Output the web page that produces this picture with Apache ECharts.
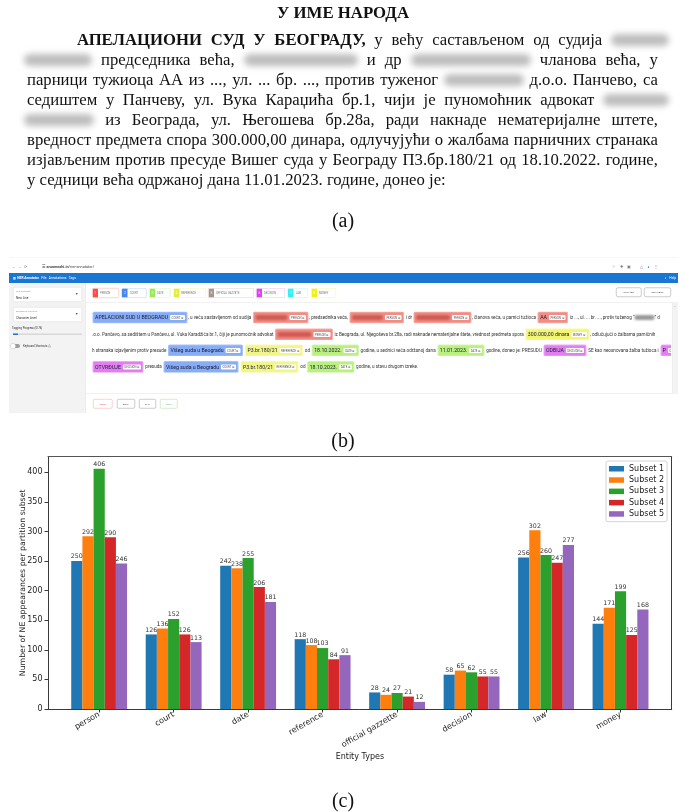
<!DOCTYPE html>
<html>
<head>
<meta charset="utf-8">
<script src="https://cdn.jsdelivr.net/npm/echarts@6/dist/echarts.min.js"></script>
<style>
html,body{margin:0;padding:0;background:#fff;}
body{width:686px;height:812px;position:relative;overflow:hidden;}
#chart{position:absolute;left:0;top:0;width:686px;height:812px;z-index:0;}
.panel{position:absolute;z-index:1;}
.serif{font-family:'Liberation Serif','DejaVu Serif',serif;color:#111;}
.ln{position:absolute;height:20px;display:flex;justify-content:space-between;align-items:center;white-space:nowrap;font-size:16.7px;}
.ln b{font-weight:bold;}
.blob{display:inline-block;height:12px;background:#bdbdbd;border-radius:6px;filter:blur(3.2px);}
.cap{position:absolute;width:686px;left:0;text-align:center;font-size:20px;line-height:24px;}
#bw{position:absolute;left:0;top:0;width:1372px;height:840px;transform:scale(0.5);transform-origin:0 0;font-family:Roboto,'Noto Sans',sans-serif;filter:blur(0.7px);}
.hl{display:inline-block;height:20px;line-height:20px;padding:0 3px;border:2px solid;border-radius:3px;vertical-align:middle;font-size:10.4px;color:#1a1a3a;margin:0 1px;}
.tg{display:inline-block;background:#fff;font-size:5.5px;line-height:10px;padding:0 3px;margin-left:4px;border-radius:2px;color:#555;vertical-align:middle;}
.bl{display:inline-block;height:10px;vertical-align:middle;border-radius:4px;filter:blur(2px);}
.row{position:absolute;white-space:nowrap;overflow:hidden;font-size:9.2px;line-height:24px;color:#333;}
</style>
</head>
<body>
<div id="chart"></div>
<div class="panel serif" id="pa" style="left:0;top:0;width:686px;height:240px;"></div>
<div class="panel" id="pb" style="left:0;top:250px;width:686px;height:170px;"><div id="bw"></div></div>
<div class="cap serif" style="top:208px;">(a)</div>
<div class="cap serif" style="top:428px;">(b)</div>
<div class="cap serif" style="top:788px;z-index:2;">(c)</div>
<script>
// ---------------- chart data (panel c) ----------------
const categories = ['person', 'court', 'date', 'reference', 'official gazzette', 'decision', 'law', 'money'];
const seriesNames = ['Subset 1', 'Subset 2', 'Subset 3', 'Subset 4', 'Subset 5'];
const subset1 = [250, 126, 242, 118, 28, 58, 256, 144];
const subset2 = [292, 136, 238, 108, 24, 65, 302, 171];
const subset3 = [406, 152, 255, 103, 27, 62, 260, 199];
const subset4 = [290, 126, 206, 84, 21, 55, 247, 125];
const subset5 = [246, 113, 181, 91, 12, 55, 277, 168];
const yTickValues = [0, 50, 100, 150, 200, 250, 300, 350, 400];
const xAxisTitle = 'Entity Types';
const yAxisTitle = 'Number of NE appearances per partition subset';
const subsetColors = ['#1f77b4', '#ff7f0e', '#2ca02c', '#d62728', '#9467bd'];

// ---------------- panel (a): document text ----------------
const titleText = 'У ИМЕ НАРОДА';
const docLines = [
  {y: 40, l: 77, r: 669, t: '*АПЕЛАЦИОНИ *СУД *У *БЕОГРАДУ, у већу састављеном од судија [58]'},
  {y: 60, l: 24, r: 658, t: '[68] председника већа, [114] и др [120] чланова већа, у'},
  {y: 80, l: 27, r: 658, t: 'парници тужиоца АА из ..., ул. ... бр. ..., против туженог [80] д.о.о. Панчево, са'},
  {y: 100, l: 27, r: 669, t: 'седиштем у Панчеву, ул. Вука Караџића бр.1, чији је пуномоћник адвокат [66]'},
  {y: 120, l: 24, r: 658, t: '[70] из Београда, ул. Његошева бр.28а, ради накнаде нематеријалне штете,'},
  {y: 140, l: 27, r: 658, t: 'вредност предмета спора 300.000,00 динара, одлучујући о жалбама парничних странака'},
  {y: 160, l: 27, r: 658, t: 'изјављеним против пресуде Вишег суда у Београду П3.бр.180/21 од 18.10.2022. године,'},
  {y: 180, l: 27, r: 0, t: 'у седници већа одржаној дана 11.01.2023. године, донео је:'}
];
const pa = document.getElementById('pa');
const tdiv = document.createElement('div');
tdiv.style.cssText = 'position:absolute;left:0;width:686px;top:2px;text-align:center;font-weight:bold;font-size:16.8px;line-height:22px;';
tdiv.textContent = titleText;
pa.appendChild(tdiv);
docLines.forEach(L => {
  const d = document.createElement('div');
  d.className = 'ln';
  d.style.top = (L.y - 10) + 'px';
  d.style.left = L.l + 'px';
  if (L.r) { d.style.width = (L.r - L.l) + 'px'; }
  else { d.style.justifyContent = 'flex-start'; d.style.gap = '4.2px'; }
  L.t.split(' ').forEach(tok => {
    let e;
    const m = tok.match(/^\[(\d+)\]$/);
    if (m) { e = document.createElement('span'); e.className = 'blob'; e.style.width = m[1] + 'px'; }
    else if (tok[0] === '*') { e = document.createElement('b'); e.textContent = tok.slice(1); }
    else { e = document.createElement('span'); e.textContent = tok; }
    d.appendChild(e);
  });
  pa.appendChild(d);
});

// ---------------- panel (b): annotator screenshot ----------------
const B = document.getElementById('bw');
function box(x, y, w, h, css, html) {
  const e = document.createElement('div');
  e.style.cssText = 'position:absolute;box-sizing:border-box;left:' + x * 2 + 'px;top:' + (y - 250) * 2 + 'px;width:' + w * 2 + 'px;height:' + h * 2 + 'px;' + (css || '');
  if (html !== undefined) e.innerHTML = html;
  B.appendChild(e);
  return e;
}
// browser chrome
box(9, 257, 669, 15, 'background:#fff;border-top:1px solid #eee;');
box(12, 262, 30, 10, 'font-size:7px;line-height:20px;color:#888;letter-spacing:5px;', '&#8592;&#8594;&#10227;');
box(42, 262, 120, 10, 'font-size:7.5px;line-height:20px;color:#444;', '&#9776; <b>arunmozhi.in</b>/ner-annotator/');
box(612, 262, 66, 10, 'font-size:7px;line-height:20px;color:#777;letter-spacing:9px;', '&#9734;&#10040;&#9635;&nbsp;&#9651;<span style="color:#3b6fd8">&#9679;</span>&#8942;');
// app bar
box(9, 273, 669, 10, 'background:#1976d2;');
box(13, 273, 200, 10, 'font-size:6.5px;line-height:20px;color:#fff;', '&#9641; <b>NER Annotator</b>&nbsp;&nbsp;&nbsp;File&nbsp;&nbsp;&nbsp;Annotations&nbsp;&nbsp;&nbsp;Tags');
box(640, 273, 36, 10, 'font-size:6.5px;line-height:20px;color:#fff;text-align:right;', '&#9680;&nbsp;&nbsp;&nbsp;Help');
// sidebar
box(9, 283, 77, 130, 'background:#f3f3f3;border-right:1px solid #e6e6e6;');
box(13, 287, 69, 15, 'background:#fff;border:1px solid #ddd;border-radius:3px;');
box(16, 288, 50, 6, 'font-size:4.6px;line-height:12px;color:#999;', 'Text Separator');
box(16, 294, 50, 7, 'font-size:6px;line-height:14px;color:#333;', 'New Line');
box(75, 290, 6, 8, 'font-size:7px;line-height:16px;color:#555;', '&#9660;');
box(13, 307, 69, 15, 'background:#fff;border:1px solid #ddd;border-radius:3px;');
box(16, 308, 50, 6, 'font-size:4.6px;line-height:12px;color:#999;', 'Annotation Precision');
box(16, 314, 50, 7, 'font-size:6px;line-height:14px;color:#333;', 'Character Level');
box(75, 310, 6, 8, 'font-size:7px;line-height:16px;color:#555;', '&#9660;');
box(12, 325, 70, 6, 'font-size:5.6px;line-height:12px;color:#333;', 'Tagging Progress (0/76)');
box(13, 333.5, 69, 1.6, 'background:#d8d8d8;border-radius:1px;');
box(13, 333.5, 5, 1.6, 'background:#1976d2;');
box(11, 344, 9, 4, 'background:#9e9e9e;border-radius:4px;');
box(10.5, 343.5, 5, 5, 'background:#fff;border-radius:50%;box-shadow:0 0 2px #888;');
box(23, 343, 60, 6, 'font-size:5.6px;line-height:12px;color:#333;', 'Keyboard Shortcuts &#9432;');
// main area
box(86, 283, 592, 130, 'background:#fff;');
const chipSpecs = [
  ['PERSON', '1', '#ff4949', '#f4a7a7', 92, 119],
  ['COURT', '2', '#4a86f0', '#a9c4f5', 121.7, 146.7],
  ['DATE', '3', '#9be85a', '#cdf2ad', 149, 170.7],
  ['REFERENCE', '4', '#e4ec3c', '#eef29c', 173.3, 206],
  ['OFFICIAL GAZZETE', '5', '#a8958c', '#d0c6c1', 208, 254],
  ['DECISION', '6', '#e040f0', '#eea6f5', 256, 285],
  ['LAW', '7', '#34f0f0', '#a6f5f5', 287.7, 308],
  ['MONEY', '8', '#f0f018', '#f3f39a', 311, 336]
];
chipSpecs.forEach(c => {
  const e = box(c[4], 288, c[5] - c[4], 10, 'background:#fff;border:1.5px solid ' + c[3] + ';border-radius:3px;overflow:hidden;');
  e.innerHTML = '<div style="position:absolute;left:0;top:0;bottom:0;width:11px;background:' + c[2] + ';color:#fff;font-size:6px;line-height:17px;text-align:center;">' + c[1] + '</div>' +
    '<div style="position:absolute;left:15px;top:0;font-size:5.4px;line-height:17px;color:#777;white-space:nowrap;">' + c[0] + '</div>';
});
box(616, 287.7, 25.7, 9.5, 'border:1.5px solid #999;border-radius:4px;font-size:5px;line-height:15px;text-align:center;color:#555;', 'NEW TAG');
box(644, 287.7, 27, 9.5, 'border:1.5px solid #999;border-radius:4px;font-size:5px;line-height:15px;text-align:center;color:#555;', 'EDIT TAGS');
box(86, 302, 592, 0.6, 'background:#e2e2e2;');
box(86, 393, 592, 0.6, 'background:#e2e2e2;');
box(672, 302.5, 6, 90.5, 'background:#f3f3f3;border-left:1px solid #e8e8e8;');
box(672, 303, 6, 6, 'font-size:4px;line-height:12px;text-align:center;color:#aaa;', '&#9650;');
[['RESET', 93, 112.7, '#f2a3a3', '#e57373'], ['BACK', 117, 135, '#999', '#666'], ['SKIP', 139, 156, '#999', '#666'], ['SAVE', 160, 177.7, '#a5d6a7', '#7cc47f']].forEach(b => {
  box(b[1], 399, b[2] - b[1], 9.5, 'border:1.5px solid ' + b[3] + ';border-radius:3px;font-size:5px;line-height:16px;text-align:center;color:' + b[4] + ';', b[0]);
});
const hlStyle = {
  COURT: ['#86adf5', '#a6c3f8'], PERSON: ['#f18d84', '#f6b0a9'], DATE: ['#b9f07e', '#d3f6ae'],
  REFERENCE: ['#f2f58a', '#f7f9b5'], MONEY: ['#f4f570', '#f8f9a8'], DECISION: ['#e27ff0', '#eeaaf6']
};
function hl(type, text, blurW) {
  const s = hlStyle[type];
  const inner = blurW ? '<span class="bl" style="width:' + blurW * 2 + 'px;background:#cf5a54;"></span>' : text;
  return '<span class="hl" style="background:' + s[0] + ';border-color:' + s[1] + ';">' + inner + '<span class="tg">' + type + ' &#8855;</span></span>';
}
const rows = [
  {y: 317.3, h: hl('COURT', 'APELACIONI SUD U BEOGRADU') + ', u veću sastavljenom od sudija ' + hl('PERSON', '', 32) + ', predsednika veća, ' + hl('PERSON', '', 31) + ' i dr ' + hl('PERSON', '', 34) + ', članova veća, u parnici tužioca ' + hl('PERSON', 'AA') + ' iz ..., ul. ... br. ..., protiv tuženog “<span class="bl" style="width:40px;background:#999;"></span>” d'},
  {y: 334, h: '.o.o. Pančevo, sa sedištem u Pančevu, ul. Vuka Karadžića br.1, čiji je punomoćnik advokat ' + hl('PERSON', '', 34) + ' iz Beograda, ul. Njegoševa br.28a, radi naknade nematerijalne štete, vrednost predmeta spora ' + hl('MONEY', '300.000,00 dinara') + ', odlučujući o žalbama parničnih'},
  {y: 350, h: 'h stranaka izjavljenim protiv presude ' + hl('COURT', 'Višeg suda u Beogradu') + ' ' + hl('REFERENCE', 'P3.br.180/21') + ' od ' + hl('DATE', '18.10.2022.') + ' godine, u sednici veća održanoj dana ' + hl('DATE', '11.01.2023.') + ' godine, doneo je: PRESUDU ' + hl('DECISION', 'ODBIJA') + ' SE kao neosnovana žalba tužioca i ' + hl('DECISION', 'P')},
  {y: 366.7, h: hl('DECISION', 'OTVRĐUJE') + ' presuda ' + hl('COURT', 'Višeg suda u Beogradu') + ' ' + hl('REFERENCE', 'P3.br.180/21') + ' od ' + hl('DATE', '18.10.2023.') + ' godine, u stavu drugom izreke.'}
];
rows.forEach(r => {
  const e = box(92, r.y - 6, 579, 12, '', r.h);
  e.className = 'row';
});

// ---------------- panel (c): ECharts bar chart ----------------
const allSubsets = [subset1, subset2, subset3, subset4, subset5];
const catIndex = categories.map((c, i) => i);
const chart = echarts.init(document.getElementById('chart'), null, {renderer: 'canvas'});
const axisColor = '#3a3a3a';
const option = {
  animation: false,
  color: subsetColors,
  textStyle: {fontFamily: 'DejaVu Sans'},
  grid: {left: 48, right: 14.3, top: 456.7, bottom: 103, containLabel: false},
  legend: {
    orient: 'vertical', left: 606, top: 461,
    itemWidth: 15, itemHeight: 5.5, itemGap: 0.8,
    padding: [2.5, 3, 2.5, 3],
    backgroundColor: '#fff', borderColor: '#d4d4d4', borderWidth: 1, borderRadius: 2,
    icon: 'rect', selectedMode: false,
    textStyle: {fontSize: 8, color: '#222', lineHeight: 10.5, fontFamily: 'DejaVu Sans'},
    data: seriesNames
  },
  xAxis: [{
    type: 'value', min: -0.687, max: 7.687, position: 'bottom',
    axisLine: {show: true, onZero: false, lineStyle: {color: axisColor, width: 1}},
    axisTick: {show: true, customValues: catIndex, length: 3.5, lineStyle: {color: axisColor}},
    axisLabel: {customValues: catIndex, formatter: v => categories[Math.round(v)], rotate: 30, fontSize: 8, color: '#222', margin: 5, fontFamily: 'DejaVu Sans'},
    splitLine: {show: false},
    name: xAxisTitle, nameLocation: 'middle', nameGap: 44, nameMoveOverlap: false,
    nameTextStyle: {fontSize: 8, color: '#222', fontFamily: 'DejaVu Sans'}
  }, {
    type: 'value', min: -0.687, max: 7.687, position: 'top',
    axisLine: {show: true, onZero: false, lineStyle: {color: '#555', width: 1}},
    axisTick: {show: false}, axisLabel: {show: false}, splitLine: {show: false}
  }],
  yAxis: [{
    type: 'value', min: 0, max: 426.3, position: 'left',
    axisLine: {show: true, onZero: false, lineStyle: {color: axisColor, width: 1}},
    axisTick: {show: true, customValues: yTickValues, length: 3.5, lineStyle: {color: axisColor}},
    axisLabel: {customValues: yTickValues, fontSize: 8, color: '#222', margin: 5.5, fontFamily: 'DejaVu Sans'},
    splitLine: {show: false},
    name: yAxisTitle, nameLocation: 'middle', nameGap: 21, nameMoveOverlap: false,
    nameTextStyle: {fontSize: 7.8, color: '#222', fontFamily: 'DejaVu Sans'}
  }, {
    type: 'value', min: 0, max: 426.3, position: 'right',
    axisLine: {show: true, onZero: false, lineStyle: {color: axisColor, width: 1}},
    axisTick: {show: false}, axisLabel: {show: false}, splitLine: {show: false}
  }],
  series: allSubsets.map((arr, k) => ({
    type: 'bar', name: seriesNames[k], xAxisIndex: 0, yAxisIndex: 0,
    barWidth: 11.175, barGap: '0%',
    data: arr.map((v, i) => [catIndex[i], v]),
    label: {show: true, position: 'top', distance: 1.2, fontSize: 6.3, color: '#333', fontFamily: 'DejaVu Sans'}
  }))
};
chart.setOption(option);
</script>
</body>
</html>
